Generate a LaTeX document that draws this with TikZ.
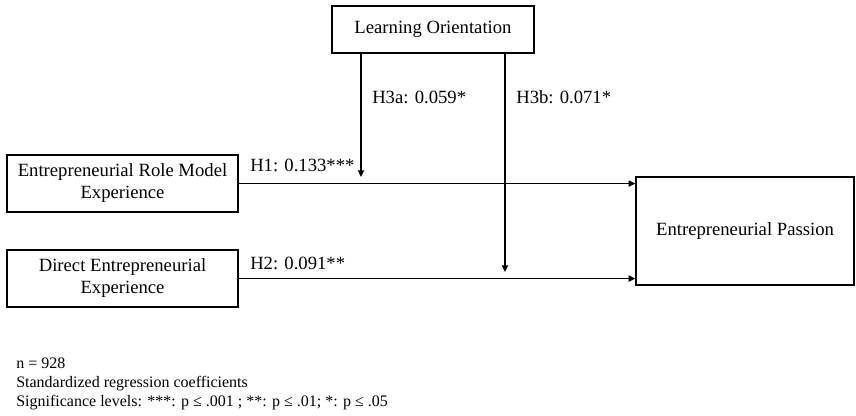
\documentclass[tikz,border=0pt]{standalone}
\usepackage{fontspec}
\setmainfont{Liberation Serif}
\usetikzlibrary{arrows.meta}

\begin{document}
\begin{tikzpicture}[x=0.75pt,y=-0.75pt,
    box/.style={draw,line width=0.9pt,inner sep=0pt,align=center,
      font=\fontsize{14}{16.5}\selectfont},
    path/.style={line width=1.2pt,-{Triangle[length=5pt,width=4.5pt]}},
    coef/.style={anchor=west,inner sep=0pt,font=\fontsize{14}{16.5}\selectfont}]
    \useasboundingbox (0,0) rectangle (856,415);

    \node[box,minimum width=151.5pt,minimum height=35.25pt] (lo) at (433,29.5)
    {Learning Orientation};
    \node[box,minimum width=173.25pt,minimum height=42.75pt] (erm) at (122.5,183.5)
    {Entrepreneurial Role Model\\Experience};
    \node[box,minimum width=173.25pt,minimum height=42.75pt] (dee) at (122.5,278.5)
    {Direct Entrepreneurial\\Experience};
    \node[box,minimum width=163.5pt,minimum height=81pt] (ep) at (745,231)
    {Entrepreneurial Passion};

    % direct effects
    \draw[path] (erm.east) -- (erm.east -| ep.west);
    \draw[path] (dee.east) -- (dee.east -| ep.west);
    \node[coef] (h1) at (250,165) {H1: 0.133***};
    \node[coef] (h2) at (250,263) {H2: 0.091**};

    % moderation
    \coordinate (m1) at (361,177);
    \coordinate (m2) at (505,272);
    \draw[path] (lo.south -| m1) -- (m1);
    \draw[path] (lo.south -| m2) -- (m2);
    \node[coef] (h3a) at (372,97) {H3a: 0.059*};
    \node[coef] (h3b) at (516,97) {H3b: 0.071*};

    \node[anchor=north west,inner sep=0pt,align=left,
      font=\fontsize{12}{14.25}\selectfont] (note) at (16,358)
    {n = 928\\Standardized regression coefficients\\
    Significance levels: ***: p ≤ .001 ; **: p ≤ .01; *: p ≤ .05};
\end{tikzpicture}
\end{document}
